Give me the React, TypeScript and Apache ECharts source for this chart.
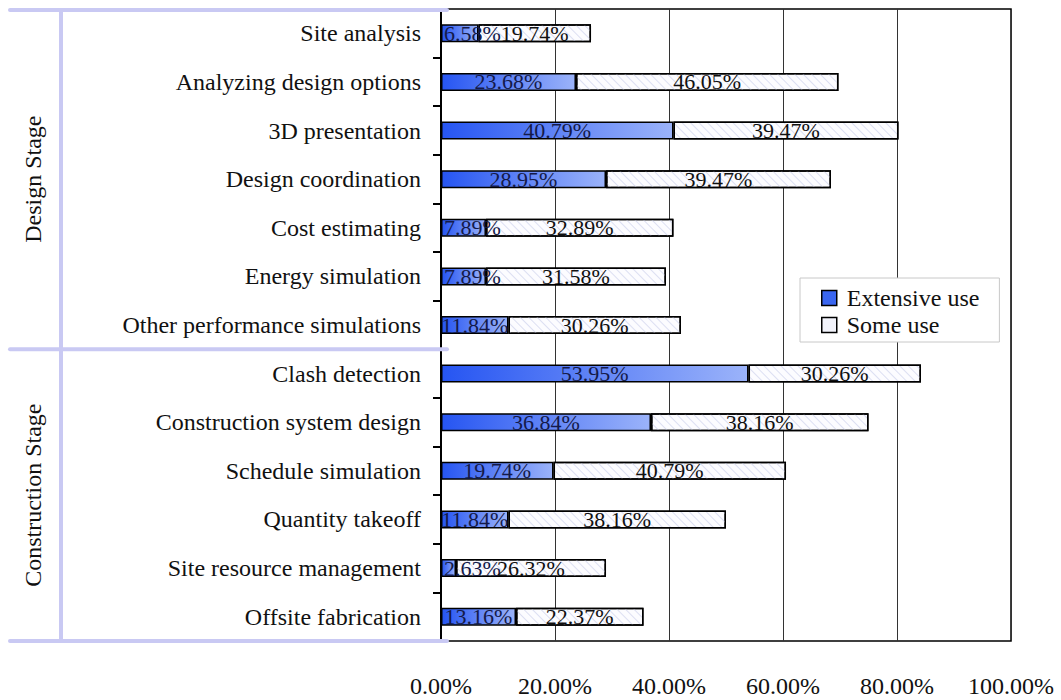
import React, { useEffect, useRef } from "react";
import * as echarts from "echarts";

const categories = [
  "Site analysis",
  "Analyzing design options",
  "3D presentation",
  "Design coordination",
  "Cost estimating",
  "Energy simulation",
  "Other performance simulations",
  "Clash detection",
  "Construction system design",
  "Schedule simulation",
  "Quantity takeoff",
  "Site resource management",
  "Offsite fabrication",
];
const extensiveUse = [6.58, 23.68, 40.79, 28.95, 7.89, 7.89, 11.84, 53.95, 36.84, 19.74, 11.84, 2.63, 13.16];
const someUse = [19.74, 46.05, 39.47, 39.47, 32.89, 31.58, 30.26, 30.26, 38.16, 40.79, 38.16, 26.32, 22.37];
const groups = [
  { name: "Design Stage", count: 7 },
  { name: "Construction Stage", count: 6 },
];
const seriesNames = ["Extensive use", "Some use"];

const FONT = "'Liberation Serif', 'DejaVu Serif', serif";
const GRID = { left: 441, top: 9, width: 570, height: 632 };
const LAV = "#c9c9f3";
const PX_PER_UNIT = GRID.width / 100;
const LABEL_W = 62;

const fmt = (v: number) => v.toFixed(2) + "%";
const withLabelPos = (vals: number[]) =>
  vals.map((v) =>
    v * PX_PER_UNIT < LABEL_W
      ? { value: v, label: { position: "insideLeft", distance: 3 } }
      : { value: v }
  );

export default function App() {
  const ref = useRef<HTMLDivElement>(null);
  useEffect(() => {
    if (!ref.current) return;
    document.body.style.margin = "0";
    const chart = echarts.init(ref.current, undefined, { renderer: "svg" });
    const rowH = GRID.height / categories.length;
    const graphics: any[] = [];
    const lineX1 = 10;
    const lineX2 = GRID.left + 6;
    let cum = 0;
    const hy = (y: number) => ({
      type: "line",
      shape: { x1: lineX1, y1: y, x2: lineX2, y2: y },
      style: { stroke: LAV, lineWidth: 4, lineCap: "round" },
      z: 10,
    });
    graphics.push(hy(GRID.top + 1));
    groups.forEach((g) => {
      const y0 = GRID.top + cum * rowH;
      cum += g.count;
      const y1 = GRID.top + cum * rowH;
      graphics.push(hy(y1));
      graphics.push({
        type: "text",
        x: 33,
        y: (y0 + y1) / 2,
        rotation: Math.PI / 2,
        style: {
          text: g.name,
          fontFamily: FONT,
          fontSize: 24,
          fill: "#111",
          align: "center",
          verticalAlign: "middle",
        },
      });
    });
    graphics.push({
      type: "line",
      shape: { x1: 61, y1: GRID.top, x2: 61, y2: GRID.top + GRID.height },
      style: { stroke: LAV, lineWidth: 4 },
      z: 10,
    });

    chart.setOption({
      animation: false,
      grid: {
        left: GRID.left,
        top: GRID.top,
        width: GRID.width,
        height: GRID.height,
        outerBoundsMode: "none",
        containLabel: false,
        show: true,
        borderColor: "#000",
        borderWidth: 1.5,
        backgroundColor: "transparent",
      },
      legend: {
        orient: "vertical",
        left: 800,
        top: 278,
        itemWidth: 15,
        itemHeight: 15,
        itemGap: 3,
        padding: [8, 20, 5, 21],
        borderColor: "#c8c8c8",
        borderWidth: 1,
        backgroundColor: "#fff",
        textStyle: { fontFamily: FONT, fontSize: 24, lineHeight: 24, color: "#111", padding: [0, 0, 0, 5] },
        data: [
          {
            name: seriesNames[0],
            icon: "rect",
            itemStyle: { color: "#3a66f0", borderColor: "#000", borderWidth: 1.5 },
          },
          {
            name: seriesNames[1],
            icon: "rect",
            itemStyle: { color: "#f2f3fb", borderColor: "#000", borderWidth: 1.5, decal: "none" },
          },
        ],
      },
      xAxis: {
        type: "value",
        min: 0,
        max: 100,
        interval: 20,
        axisLine: { show: false },
        axisTick: { show: false },
        splitLine: { show: true, lineStyle: { color: "#333", width: 1 } },
        axisLabel: {
          margin: 33,
          fontFamily: FONT,
          fontSize: 24,
          color: "#111",
          formatter: (v: number) => v.toFixed(2) + "%",
        },
      },
      yAxis: {
        type: "category",
        inverse: true,
        data: categories,
        axisLine: { show: true, lineStyle: { color: "#000", width: 2 } },
        axisTick: { show: true, length: 8, lineStyle: { color: "#000", width: 2 } },
        axisLabel: { margin: 20, fontFamily: FONT, fontSize: 24, color: "#111" },
      },
      graphic: graphics,
      series: [
        {
          name: seriesNames[0],
          type: "bar",
          stack: "total",
          barWidth: 18,
          data: withLabelPos(extensiveUse),
          itemStyle: {
            color: new echarts.graphic.LinearGradient(0, 0, 1, 0, [
              { offset: 0, color: "#2655f2" },
              { offset: 1, color: "#9bb3fa" },
            ]),
            borderColor: "#000",
            borderWidth: 1.5,
          },
          label: {
            show: true,
            position: "inside",
            fontFamily: FONT,
            fontSize: 22,
            color: "#141a4a",
            formatter: (p: any) => fmt(p.value),
          },
          z: 2,
        },
        {
          name: seriesNames[1],
          type: "bar",
          stack: "total",
          barWidth: 18,
          data: withLabelPos(someUse),
          itemStyle: {
            color: "#fcfcff",
            borderColor: "#000",
            borderWidth: 1.5,
            decal: {
              symbol: "rect",
              symbolSize: 1,
              dashArrayX: [1, 0],
              dashArrayY: [1, 5],
              rotation: Math.PI / 4,
              color: "#dcdff2",
            },
          },
          label: {
            show: true,
            position: "inside",
            fontFamily: FONT,
            fontSize: 22,
            color: "#111",
            formatter: (p: any) => fmt(p.value),
          },
          z: 2,
        },
      ],
    });
    return () => chart.dispose();
  }, []);
  return <div ref={ref} style={{ width: 1061, height: 700 }} />;
}
